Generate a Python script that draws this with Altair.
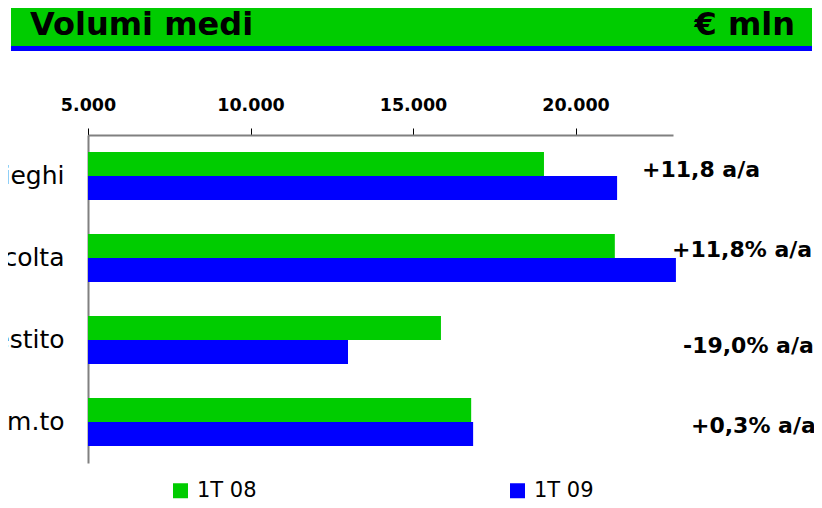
import altair as alt
import pandas as pd

categories = ["Impieghi", "Raccolta", "Risparmio gestito", "Risparmio amm.to"]
series = ["1T 08", "1T 09"]
values_08 = [19030, 21210, 15860, 16790]
values_09 = [21280, 23090, 13000, 16850]
annotations = ["+11,8 a/a", "+11,8% a/a", "-19,0% a/a", "+0,3% a/a"]
tick_values = [5000, 10000, 15000, 20000]
axis_min, axis_max = 5000, 23000

rows = []
for c, a, b in zip(categories, values_08, values_09):
    rows.append({"cat": c, "serie": series[0], "val": a})
    rows.append({"cat": c, "serie": series[1], "val": b})
df = pd.DataFrame(rows)
ann_df = pd.DataFrame({"cat": categories, "txt": annotations})

W, H = 585, 328
GREEN, BLUE = "#00CC00", "#0000FF"

yscale = alt.Scale(domain=categories, paddingInner=0.415, paddingOuter=0.2075)

bars = alt.Chart(df).mark_bar().encode(
    x=alt.X("val:Q",
            scale=alt.Scale(domain=[axis_min, axis_max], zero=False, nice=False),
            axis=alt.Axis(orient="top", values=tick_values, title=None, grid=False,
                          labelExpr="replace(format(datum.value, ','), ',', '.')",
                          labelFont="DejaVu Sans", labelFontWeight="bold", labelFontSize=17.5,
                          labelColor="black", labelBaseline="alphabetic", labelPadding=18,
                          tickSize=7, tickColor="black", tickWidth=1,
                          domainColor="#808080", domainWidth=2, labelFlush=False)),
    x2=alt.datum(axis_min),
    y=alt.Y("cat:N", scale=yscale, sort=categories,
            axis=alt.Axis(title=None, ticks=False, labelFont="DejaVu Sans", labelFontSize=25,
                          labelColor="black", labelPadding=24, domainColor="#808080",
                          domainWidth=2, labelLimit=400, labelBaseline="alphabetic",
                          labelOffset=8)),
    yOffset=alt.YOffset("serie:N", sort=series, scale=alt.Scale(paddingInner=0, paddingOuter=0)),
    color=alt.Color("serie:N", sort=series,
                    scale=alt.Scale(domain=series, range=[GREEN, BLUE]),
                    legend=alt.Legend(title=None, orient="none", legendX=82, legendY=345,
                                      direction="horizontal", columns=2, columnPadding=250,
                                      symbolType="square", symbolSize=225, symbolStrokeWidth=0,
                                      labelFont="DejaVu Sans", labelFontSize=21,
                                      labelColor="black", labelOffset=6, labelLimit=200)),
)

layers = [bars]

# annotations to the right of the bars
ann_pos = [(554, -6), (584, -8), (595, 6), (603, 4)]
for (cat, txt), (xp, dy) in zip(zip(categories, annotations), ann_pos):
    layers.append(
        alt.Chart(ann_df).transform_filter(alt.datum.cat == cat).mark_text(
            font="DejaVu Sans", fontWeight="bold", fontSize=22, align="left",
            baseline="middle", dy=dy, color="black"
        ).encode(x=alt.value(xp), y=alt.Y("cat:N", scale=yscale, sort=categories), text="txt:N")
    )

# header band
one = pd.DataFrame({"k": [0]})
header = alt.Chart(one).mark_rect(color=GREEN).encode(
    x=alt.value(-77), x2=alt.value(724), y=alt.value(-135), y2=alt.value(-89))
header_line = alt.Chart(one).mark_rect(color=BLUE).encode(
    x=alt.value(-77), x2=alt.value(724), y=alt.value(-89), y2=alt.value(-84))
title_l = alt.Chart(pd.DataFrame({"t": ["Volumi medi"]})).mark_text(
    font="DejaVu Sans", fontWeight="bold", fontSize=32, align="left",
    baseline="alphabetic", color="black").encode(x=alt.value(-58), y=alt.value(-100), text="t:N")
title_r = alt.Chart(pd.DataFrame({"t": ["€ mln"]})).mark_text(
    font="DejaVu Sans", fontWeight="bold", fontSize=32, align="right",
    baseline="alphabetic", color="black").encode(x=alt.value(707), y=alt.value(-100), text="t:N")

chart = alt.layer(header, header_line, title_l, title_r, *layers).properties(
    width=W, height=H,
    background="white",
    autosize=alt.AutoSizeParams(type="none"),
    padding={"left": 80, "top": 127, "right": 141, "bottom": 37},
).configure_view(stroke=None)

chart.save("out.html", embed_options={"renderer": "svg", "actions": False})
